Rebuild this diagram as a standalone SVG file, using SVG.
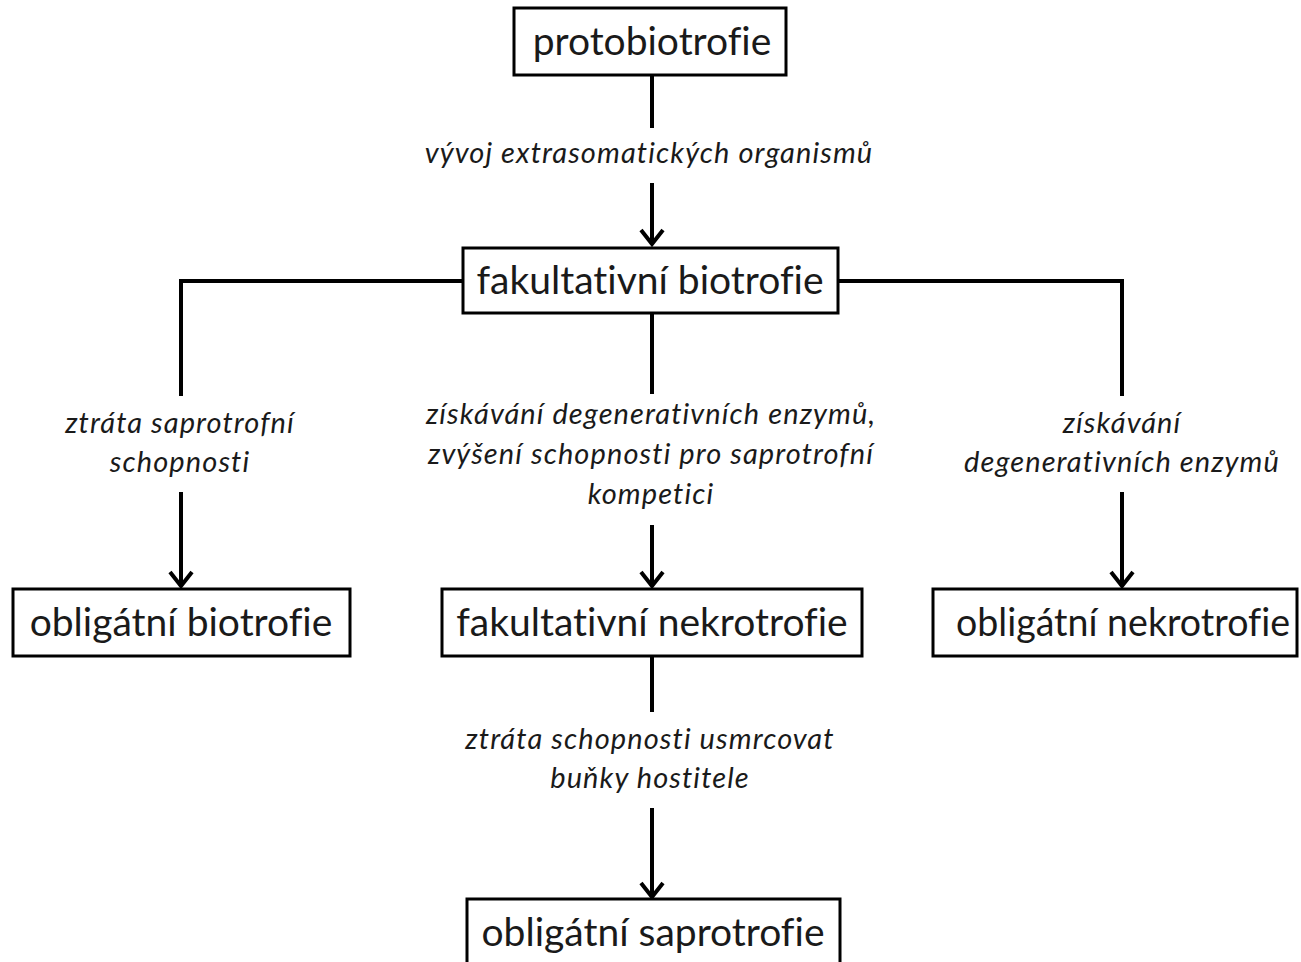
<svg xmlns="http://www.w3.org/2000/svg" width="1301" height="962" viewBox="0 0 1301 962">
<style>
.box{fill:#fff;stroke:#000;stroke-width:3}
.nt{font-family:Lato,"Open Sans","Liberation Sans",sans-serif;font-size:39px;fill:#1a1a1a;text-anchor:middle;font-variant-ligatures:none}
.lb{font-family:Lato,"Open Sans","Liberation Sans",sans-serif;font-size:29px;letter-spacing:1.1px;font-style:italic;fill:#1a1a1a;text-anchor:middle;font-variant-ligatures:none}
.ln{fill:none;stroke:#000;stroke-width:4}
.ah{fill:none;stroke:#000;stroke-width:4}
</style>
<rect width="1301" height="962" fill="#fff"/>
<g id="connectors">
<line class="ln" x1="652" y1="76" x2="652" y2="128"/>
<line class="ln" x1="652" y1="183" x2="652" y2="244"/>
<polyline class="ah" points="641,230 652,244 663,230"/>
<polyline class="ln" points="463,281 181,281 181,396"/>
<polyline class="ln" points="838,281 1122,281 1122,396"/>
<line class="ln" x1="652" y1="313" x2="652" y2="394"/>
<line class="ln" x1="181" y1="492" x2="181" y2="586"/>
<polyline class="ah" points="170,572 181,586 192,572"/>
<line class="ln" x1="652" y1="525" x2="652" y2="586"/>
<polyline class="ah" points="641,572 652,586 663,572"/>
<line class="ln" x1="1122" y1="492" x2="1122" y2="586"/>
<polyline class="ah" points="1111,572 1122,586 1133,572"/>
<line class="ln" x1="652" y1="657" x2="652" y2="712"/>
<line class="ln" x1="652" y1="808" x2="652" y2="897"/>
<polyline class="ah" points="641,883 652,897 663,883"/>
<text class="lb" x="649" y="163">vývoj extrasomatických organismů</text>
<text class="lb" x="180" y="433">ztráta saprotrofní</text>
<text class="lb" x="180" y="472">schopnosti</text>
<text class="lb" x="651" y="424">získávání degenerativních enzymů,</text>
<text class="lb" x="651" y="464">zvýšení schopnosti pro saprotrofní</text>
<text class="lb" x="651" y="504">kompetici</text>
<text class="lb" x="1122" y="433">získávání</text>
<text class="lb" x="1122" y="472">degenerativních enzymů</text>
<text class="lb" x="650" y="749">ztráta schopnosti usmrcovat</text>
<text class="lb" x="650" y="788">buňky hostitele</text>
</g>
<g id="n1"><rect class="box" x="514" y="8" width="272" height="67"/><text class="nt" x="652" y="55">protobiotrofie</text></g>
<g id="n2"><rect class="box" x="463" y="248" width="375" height="65"/><text class="nt" x="650" y="294">fakultativní biotrofie</text></g>
<g id="n3"><rect class="box" x="13" y="589" width="337" height="67"/><text class="nt" x="181" y="636">obligátní biotrofie</text></g>
<g id="n4"><rect class="box" x="442" y="589" width="420" height="67"/><text class="nt" x="652" y="636">fakultativní nekrotrofie</text></g>
<g id="n5"><rect class="box" x="933" y="589" width="364" height="67"/><text class="nt" x="1123" y="636" textLength="334" lengthAdjust="spacingAndGlyphs">obligátní nekrotrofie</text></g>
<g id="n6"><rect class="box" x="467" y="899" width="373" height="80"/><text class="nt" x="653" y="946">obligátní saprotrofie</text></g>
</svg>
